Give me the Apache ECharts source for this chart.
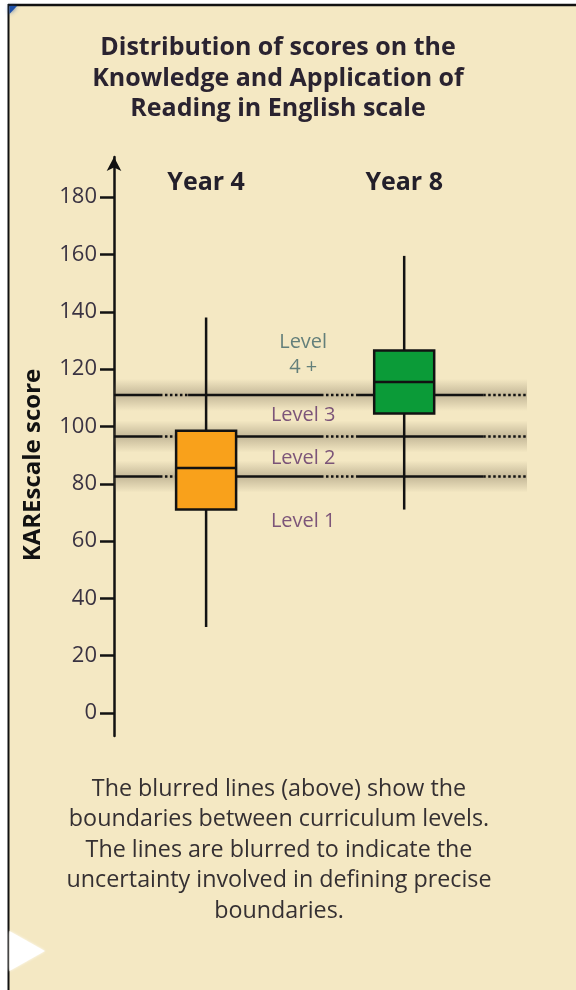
<!DOCTYPE html>
<html>
<head>
<meta charset="utf-8">
<script src="https://cdn.jsdelivr.net/npm/echarts@6/dist/echarts.min.js"></script>
<style>html,body{margin:0;padding:0;background:#fff;}#c{width:576px;height:990px;}</style>
</head>
<body>
<div id="c"></div>
<script>
// ---- data ----
const titleLines = ['Distribution of scores on the', 'Knowledge and Application of', 'Reading in English scale'];
const footerLines = [
  'The blurred lines (above) show the',
  'boundaries between curriculum levels.',
  'The lines are blurred to indicate the',
  'uncertainty involved in defining precise',
  'boundaries.'
];
const categories = ['Year 4', 'Year 8'];
const categoryPos = [1, 2];
const whiskerLow = [30, 71];
const q1 = [71, 104.5];
const median = [85.5, 115.5];
const q3 = [98.5, 126.5];
const whiskerHigh = [138, 159.5];
const yTicks = [0, 20, 40, 60, 80, 100, 120, 140, 160, 180];
const boundaries = [82.5, 96.5, 111];
const levelNames = ['Level\n4 +', 'Level 3', 'Level 2', 'Level 1'];
const levelY = [125, 104, 89, 67];

// ---- layout / style constants ----
const X_MIN = 0.535, X_MAX = 2.62;
const LEVEL_X = 1.49;
const dottedRanges = [[0.767, 0.909], [1.58, 1.757], [2.399, 2.62]];
const boxColors = ['#f9a11b', '#0b9b38'];
const levelColors = ['#3f6468', '#5e2f66', '#5e2f66', '#5e2f66'];
const FONT = '"Open Sans", "Noto Sans", sans-serif';
const INK = '#121212';

const chart = echarts.init(document.getElementById('c'), null, {renderer: 'canvas'});

const boxData = categoryPos.map((x, i) => [x, whiskerLow[i], q1[i], median[i], q3[i], whiskerHigh[i]]);

function solidRanges() {
  const out = [];
  let cur = X_MIN;
  dottedRanges.forEach(r => { if (r[0] > cur) out.push([cur, r[0]]); cur = r[1]; });
  if (cur < X_MAX) out.push([cur, X_MAX]);
  return out;
}

const option = {
  backgroundColor: '#f4e8c3',
  animation: false,
  grid: {left: 114, right: 49, top: 157, bottom: 254, outerBoundsMode: 'none', containLabel: false},
  xAxis: {
    type: 'value', min: X_MIN, max: X_MAX, position: 'top',
    axisLine: {show: false}, axisTick: {show: false}, splitLine: {show: false},
    axisLabel: {
      customValues: categoryPos,
      formatter: v => categories[categoryPos.indexOf(v)],
      inside: true, margin: 13,
      fontSize: 25, fontWeight: 'bold', color: '#231f2a', fontFamily: FONT
    }
  },
  yAxis: {
    type: 'value', min: -8, max: 194,
    axisLine: {show: true, onZero: false, symbol: ['none', 'arrow'], symbolSize: [11, 14],
      lineStyle: {color: INK, width: 2.5}},
    axisTick: {show: true, customValues: yTicks, length: 14, lineStyle: {color: INK, width: 2.5}},
    axisLabel: {customValues: yTicks, margin: 17, fontSize: 22, color: '#3a3342', fontFamily: FONT},
    splitLine: {show: false},
    name: 'KAREscale score', nameLocation: 'middle', nameRotate: 90, nameGap: 69,
    nameTextStyle: {fontSize: 24, fontWeight: 'bold', color: INK, fontFamily: FONT, padding: [0, 37, 0, 0]}
  },
  graphic: [
    {type: 'rect', shape: {x: 0, y: 0, width: 8, height: 990}, style: {fill: '#fff'}, silent: true},
    {type: 'rect', shape: {x: 0, y: 0, width: 576, height: 4}, style: {fill: '#fff'}, silent: true},
    {type: 'line', shape: {x1: 8.5, y1: 4, x2: 8.5, y2: 990}, style: {stroke: '#111', lineWidth: 2}, silent: true},
    {type: 'line', shape: {x1: 8, y1: 5, x2: 576, y2: 5}, style: {stroke: '#111', lineWidth: 2.5}, silent: true},
    {type: 'polygon', shape: {points: [[9.5, 6], [17, 6], [9.5, 14]]},
      style: {fill: '#1d4fa8', shadowBlur: 4, shadowColor: 'rgba(29,79,168,0.8)'}, silent: true},
    {type: 'polygon', shape: {points: [[9.5, 931], [45, 951], [9.5, 971]]},
      style: {fill: '#ffffff', shadowBlur: 3, shadowColor: 'rgba(255,255,255,0.9)'}, silent: true},
    {type: 'text', x: 278, y: 33, silent: true,
      style: {text: titleLines.join('\n'), align: 'center', verticalAlign: 'top', lineHeight: 30.5,
        fontSize: 25, fontWeight: 'bold', fontFamily: FONT, fill: '#2a2330'}},
    {type: 'text', x: 279, y: 774, silent: true,
      style: {text: footerLines.join('\n'), align: 'center', verticalAlign: 'top', lineHeight: 30.5,
        fontSize: 23.3, fontFamily: FONT, fill: '#353032'}}
  ],
  series: [
    {
      type: 'custom', name: 'boundaries', z: 2, silent: true,
      data: boundaries.map(b => [X_MIN, b]),
      encode: {x: 0, y: 1},
      renderItem(params, api) {
        const cs = params.coordSys;
        const y = api.coord([X_MIN, api.value(1)])[1];
        const children = [{
          type: 'rect',
          shape: {x: cs.x, y: y - 16, width: cs.width, height: 32},
          style: {fill: new echarts.graphic.LinearGradient(0, 0, 0, 1, [
            {offset: 0, color: 'rgba(105,92,70,0)'},
            {offset: 0.5, color: 'rgba(105,92,70,0.34)'},
            {offset: 1, color: 'rgba(105,92,70,0)'}
          ])}
        }];
        solidRanges().forEach(r => {
          const a = api.coord([r[0], api.value(1)]), b = api.coord([r[1], api.value(1)]);
          children.push({type: 'line', shape: {x1: a[0], y1: y, x2: b[0], y2: y},
            style: {stroke: INK, lineWidth: 2.5}});
        });
        dottedRanges.forEach(r => {
          const a = api.coord([r[0], api.value(1)]), b = api.coord([r[1], api.value(1)]);
          children.push({type: 'line', shape: {x1: a[0], y1: y, x2: b[0], y2: y},
            style: {stroke: INK, lineWidth: 2.5, lineDash: [2.5, 2.5]}});
        });
        return {type: 'group', children};
      }
    },
    {
      type: 'custom', name: 'scores', z: 5, silent: true,
      data: boxData,
      encode: {x: 0, y: [1, 2, 3, 4, 5]},
      renderItem(params, api) {
        const x = api.value(0);
        const lo = api.coord([x, api.value(1)]);
        const b1 = api.coord([x, api.value(2)]);
        const md = api.coord([x, api.value(3)]);
        const b3 = api.coord([x, api.value(4)]);
        const hi = api.coord([x, api.value(5)]);
        const half = 30;
        return {type: 'group', children: [
          {type: 'line', shape: {x1: lo[0], y1: lo[1], x2: hi[0], y2: hi[1]}, style: {stroke: INK, lineWidth: 2.5}},
          {type: 'rect', shape: {x: b3[0] - half, y: b3[1], width: half * 2, height: b1[1] - b3[1]},
            style: {fill: boxColors[params.dataIndex], stroke: INK, lineWidth: 2.5}},
          {type: 'line', shape: {x1: md[0] - half, y1: md[1], x2: md[0] + half, y2: md[1]},
            style: {stroke: INK, lineWidth: 2.5}}
        ]};
      }
    },
    {
      type: 'scatter', name: 'levels', z: 4, silent: true, symbolSize: 0,
      data: levelNames.map((n, i) => ({
        value: [LEVEL_X, levelY[i]], name: n,
        label: {color: levelColors[i]}
      })),
      label: {show: true, position: 'inside', formatter: p => p.name,
        fontSize: 20, lineHeight: 25, fontFamily: FONT}
    }
  ]
};
chart.setOption(option);
</script>
</body>
</html>
